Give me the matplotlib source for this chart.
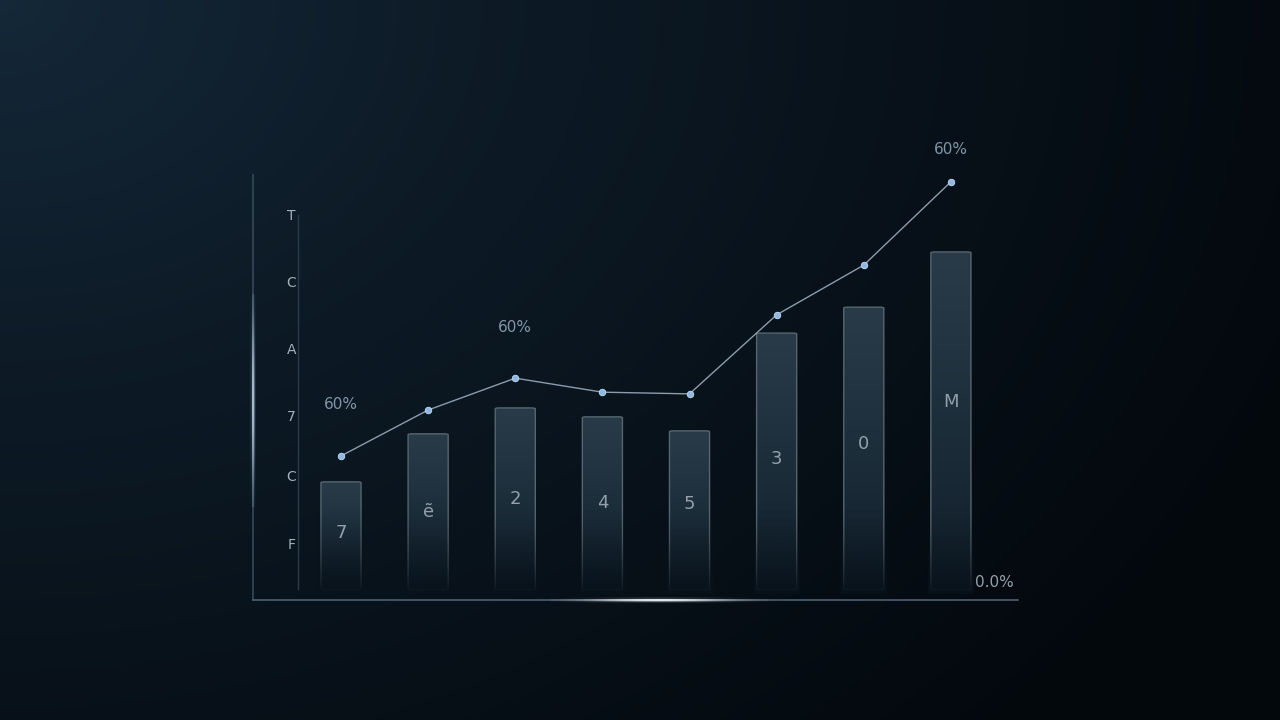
import numpy as np
import matplotlib.pyplot as plt
from matplotlib.patches import FancyBboxPatch
from matplotlib.collections import LineCollection
from matplotlib.colors import LinearSegmentedColormap, to_rgb

# values (axis runs 0..100)
bar_values = [27.8, 39.1, 45.2, 43.1, 39.8, 62.8, 68.9, 81.9]
bar_labels = ["7", "ẽ", "2", "4", "5", "3", "0", "M"]
bar_label_y = [15.8, 20.7, 23.8, 22.8, 22.6, 33.2, 36.7, 46.6]
line_values = [33.9, 44.7, 52.2, 48.9, 48.5, 67.1, 78.8, 98.4]
ytick_pos = [12.9, 28.9, 43.1, 58.8, 74.6, 90.4]
ytick_labels = ["F", "C", "7", "A", "C", "T"]
notes = [(0, 46.0, "60%"), (2, 64.2, "60%"), (7.0, 106.0, "60%")]

fig = plt.figure(figsize=(12.8, 7.2), dpi=100)

# background gradient, lighter in the top left corner
bg = fig.add_axes([0, 0, 1, 1])
bg.set_axis_off()
yy, xx = np.mgrid[0:1:360j, 0:1:640j]
d = np.sqrt((xx * 1.0) ** 2 + (yy * 0.75) ** 2)
t = np.clip(d / 1.1, 0, 1) ** 0.8
c0 = np.array(to_rgb("#15293a"))
c1 = np.array(to_rgb("#03080d"))
img = c0[None, None, :] * (1 - t[..., None]) + c1[None, None, :] * t[..., None]
bg.imshow(img, extent=[0, 1, 0, 1], aspect="auto", origin="upper")
bg.set_xlim(0, 1)
bg.set_ylim(0, 1)

ax = fig.add_axes([253 / 1280, 120 / 720, 765 / 1280, 425 / 720])
ax.set_facecolor("none")

for s in ["top", "right"]:
    ax.spines[s].set_visible(False)
ax.spines["left"].set_color("#34495c")
ax.spines["bottom"].set_color("#4b6072")
ax.spines["left"].set_linewidth(1.2)
ax.spines["bottom"].set_linewidth(1.2)
ax.set_xticks([])
ax.set_yticks([])


def glow(xs, ys, centre, spread, color, peak):
    pts = np.column_stack([xs, ys])
    segs = np.stack([pts[:-1], pts[1:]], axis=1)
    s = np.linspace(0, 1, len(xs) - 1)
    a = peak * np.exp(-((s - centre) / spread) ** 2)
    rgb = np.array(to_rgb(color))
    for lw, k in [(4.0, 0.15), (2.2, 0.4), (1.2, 1.0)]:
        cols = np.column_stack([np.tile(rgb, (len(a), 1)), np.clip(a * k, 0, 1)])
        lc = LineCollection(segs, colors=cols, linewidths=lw, clip_on=False, zorder=7)
        ax.add_collection(lc)


n = 200
glow(np.linspace(2.4, 4.9, n), np.zeros(n), 0.5, 0.28, "#eef5fc", 1.0)
glow(np.full(n, -1.01), np.linspace(22, 72, n), 0.5, 0.35, "#b4cbe0", 0.95)

# inner axis line
ax.plot([-0.49, -0.49], [2.5, 90.5], color="#2a3b4a", lw=1.0)

for y, lab in zip(ytick_pos, ytick_labels):
    ax.text(-0.57, y, lab, color="#a4b0bc", fontsize=10, ha="center", va="center")

# bars with fade to bottom
bar_w = 0.46
fade = LinearSegmentedColormap.from_list("fade", ["#111e29", "#1d2e3b", "#293b49"])
for i, v in enumerate(bar_values):
    patch = FancyBboxPatch((i - bar_w / 2, 2.4), bar_w, v - 2.4,
                           boxstyle="round,pad=0,rounding_size=0.05",
                           mutation_aspect=4.0,
                           facecolor="none", edgecolor="#55666f", lw=1.0, zorder=3)
    ax.add_patch(patch)
    grad = np.linspace(0, 1, 100)[:, None]
    im = ax.imshow(grad, extent=[i - bar_w / 2, i + bar_w / 2, 2.4, v],
                   origin="lower", aspect="auto", cmap=fade, zorder=2)
    im.set_clip_path(patch)
    # dark veil over the foot of the bar
    veil = np.zeros((100, 1, 4))
    veil[..., :3] = to_rgb("#08121b")
    veil[:, 0, 3] = np.clip(1 - np.linspace(0, 1, 100), 0, 1) ** 1.5
    ax.imshow(veil, extent=[i - bar_w / 2 - 0.03, i + bar_w / 2 + 0.03, 1.5, 22],
              origin="lower", aspect="auto", zorder=3.5)
    ax.text(i, bar_label_y[i], bar_labels[i], color="#939fab", fontsize=13,
            ha="center", va="center", zorder=4)

ax.set_xlim(-1.01, 7.77)
ax.set_ylim(0, 100)

xs = np.arange(len(line_values))
ax.plot(xs, line_values, color="#8c9cab", lw=1.0, zorder=5)
ax.scatter(xs, line_values, s=22, color="#8fb8e4", edgecolor="#c6dcf2",
           linewidth=0.6, zorder=6)

for x, y, txt in notes:
    ax.text(x, y, txt, color="#8196a8", fontsize=11, ha="center", va="center")
ax.text(7.5, 4.2, "0.0%", color="#939fab", fontsize=11, ha="center", va="center")

fig.savefig("out.png", dpi=100)
